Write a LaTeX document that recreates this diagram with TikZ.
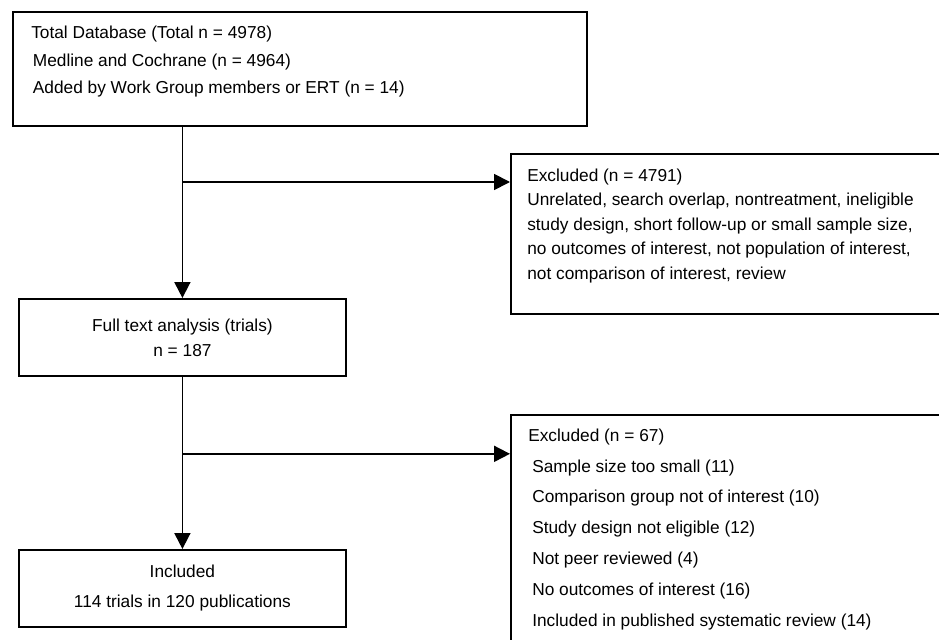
\documentclass[tikz,border=0pt]{standalone}
\usepackage{fontspec}
\setmainfont{Liberation Sans}
\usetikzlibrary{arrows.meta}

\begin{document}
\begin{tikzpicture}[
  box/.style={draw, line width=1.3pt, rectangle, inner sep=0pt, anchor=north west},
  txt/.style={inner sep=0pt, anchor=base west, align=left, font=\fontsize{12.3}{#1}\selectfont},
  txt/.default=17.4,
  arr/.style={line width=1.3pt, -{Triangle[length=0.4cm, width=0.4cm]}}
]
  \useasboundingbox (0,0) rectangle (23.475,-16);

  % Total database (text placed by its last baseline)
  \node[box, minimum width=14.35cm, minimum height=2.85cm] (total) at (0.3,-0.275) {};
  \node[txt=19.6] (totaltext) at (0.775,-2.35) {Total Database (Total n = 4978)\\
    \hspace*{0.04cm}Medline and Cochrane (n = 4964)\\
    \hspace*{0.04cm}Added by Work Group members or ERT (n = 14)};

  % Excluded, first stage
  \node[box, minimum width=11.25cm, minimum height=4cm] (excl1) at (12.75,-3.825) {};
  \node[txt=17.4] (excl1text) at (13.175,-6.975) {Excluded (n = 4791)\\
    Unrelated, search overlap, nontreatment, ineligible\\
    study design, short follow-up or small sample size,\\
    no outcomes of interest, not population of interest,\\
    not comparison of interest, review};

  % Full text analysis
  \node[box, minimum width=8.175cm, minimum height=1.925cm, align=center,
    font=\fontsize{12.3}{17.8}\selectfont] (full) at (0.45,-7.45) {Full text analysis (trials)\\ n = 187};

  % Excluded, second stage
  \node[box, minimum width=11.25cm, minimum height=6.15cm] (excl2) at (12.75,-10.35) {};
  \node[txt=21.9] (excl2text) at (13.3,-15.65) {\hspace*{-0.1cm}Excluded (n = 67)\\
    Sample size too small (11)\\
    Comparison group not of interest (10)\\
    Study design not eligible (12)\\
    Not peer reviewed (4)\\
    No outcomes of interest (16)\\
    Included in published systematic review (14)};

  % Included
  \node[box, minimum width=8.175cm, minimum height=1.925cm, align=center,
    font=\fontsize{12.3}{21.3}\selectfont] (incl) at (0.45,-13.725) {Included\\ 114 trials in 120 publications};

  % connectors
  \coordinate (split1) at ([yshift=2.9cm]full.north);
  \coordinate (split2) at ([yshift=-1.925cm]full.south);
  \draw[arr] (full.north |- total.south) -- (full);
  \draw[arr] (full.south) -- (incl);
  \draw[arr] (split1) -- (split1 -| excl1.west);
  \draw[arr] (split2) -- (split2 -| excl2.west);
\end{tikzpicture}
\end{document}
